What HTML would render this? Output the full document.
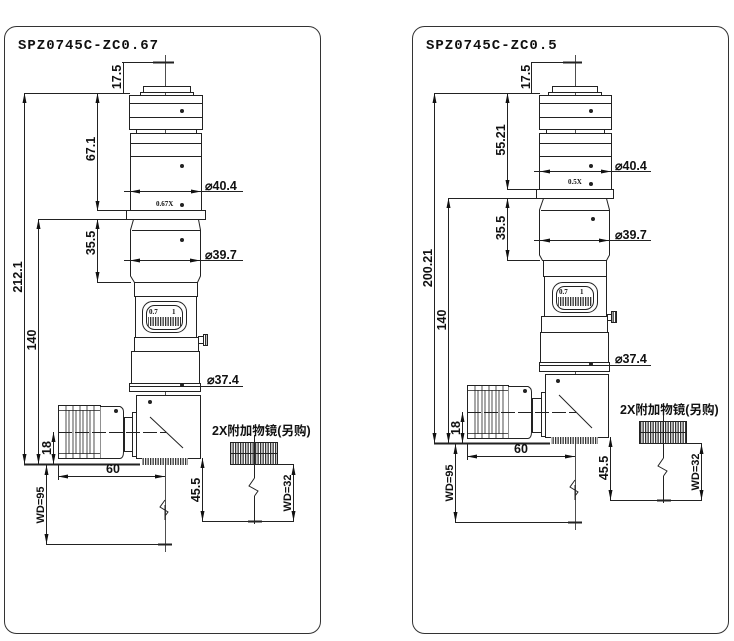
<!DOCTYPE html>
<html><head><meta charset="utf-8"><style>
html,body{margin:0;padding:0;background:#fff;width:734px;height:641px;overflow:hidden}
svg{display:block}
text{font-family:"Liberation Sans","Noto Sans CJK SC",sans-serif;font-weight:bold;fill:#111}
.t{font-family:"Liberation Mono","Noto Sans CJK SC",monospace;font-size:14px;letter-spacing:1px}
.d{font-size:12.5px}
</style></head><body>
<svg width="734" height="641" viewBox="0 0 734 641" xmlns="http://www.w3.org/2000/svg">
<defs>
<marker id="a" viewBox="0 0 10 4" refX="10" refY="2" markerWidth="10" markerHeight="4" markerUnits="userSpaceOnUse" orient="auto-start-reverse"><path d="M0,0L10,2L0,4z" fill="#111"/></marker>
<pattern id="k" width="2.5" height="10" patternUnits="userSpaceOnUse"><rect width="2.5" height="10" fill="#fff"/><rect width="1.3" height="10" fill="#333"/></pattern>
</defs>
<g fill="none" stroke="#333" stroke-width="1">
<rect x="4.5" y="26.5" width="316" height="607" rx="12"/>
<rect x="412.5" y="26.5" width="316" height="607" rx="12"/>
</g>
<text class="t" x="18" y="49">SPZ0745C-ZC0.67</text>
<text class="t" x="426" y="49">SPZ0745C-ZC0.5</text>

<!-- LEFT PANEL -->
<g fill="none" stroke="#222" stroke-width="1">
<line x1="165.5" y1="55" x2="165.5" y2="552" stroke-width="0.8"/>
<line x1="153" y1="62.5" x2="174" y2="62.5" stroke-width="2"/>
<line x1="122" y1="62.5" x2="165" y2="62.5"/>
<rect x="143.5" y="86.5" width="47" height="6" fill="#fff"/>
<rect x="140.5" y="92.5" width="53" height="3"/>
<rect x="129.5" y="95.5" width="73" height="34" fill="#fff"/>
<line x1="129" y1="103.5" x2="202" y2="103.5"/><line x1="129" y1="117.5" x2="202" y2="117.5"/>
<rect x="136.5" y="129.5" width="60" height="4"/>
<rect x="130.5" y="133.5" width="71" height="77" fill="#fff"/>
<line x1="130" y1="143.5" x2="201" y2="143.5"/><line x1="130" y1="156.5" x2="201" y2="156.5"/>
<rect x="126.5" y="210.5" width="79" height="9" fill="#fff"/>
<path d="M133.5,219.5 L198.5,219.5 L200.5,230 L200.5,276 L197.5,282.5 L134.5,282.5 L130.5,276 L130.5,230 Z" fill="#fff"/>
<line x1="132" y1="230.5" x2="200" y2="230.5"/>
<rect x="134.5" y="282.5" width="63" height="14" fill="#fff"/>
<rect x="135.5" y="296.5" width="61" height="41" fill="#fff"/>
<rect x="142.5" y="301.5" width="44" height="31" rx="10"/>
<rect x="146.5" y="305.5" width="36" height="24" rx="8"/>
<rect x="148" y="317" width="33" height="9" fill="url(#k)" stroke="none"/>
<rect x="134.5" y="337.5" width="64" height="14" fill="#fff"/>
<rect x="198.5" y="336.5" width="5" height="7"/>
<rect x="203.5" y="334.5" width="4" height="11" fill="url(#k)"/>
<rect x="131.5" y="351.5" width="68" height="32" fill="#fff"/>
<rect x="129.5" y="383.5" width="71" height="8" fill="#fff"/>
<rect x="136.5" y="395.5" width="64" height="63" fill="#fff"/>
<line x1="150" y1="417" x2="183" y2="448"/>
<rect x="142" y="458" width="46" height="7" fill="url(#k)" stroke="none"/>
<rect x="58.5" y="405.5" width="42" height="53" fill="#fff"/>
<g stroke-width="0.8"><line x1="66" y1="406" x2="66" y2="458"/><line x1="69" y1="410" x2="69" y2="454"/><line x1="73" y1="406" x2="73" y2="458"/><line x1="76" y1="410" x2="76" y2="454"/><line x1="80" y1="406" x2="80" y2="458"/><line x1="83" y1="410" x2="83" y2="454"/><line x1="87" y1="406" x2="87" y2="458"/><line x1="90" y1="410" x2="90" y2="454"/><line x1="94" y1="406" x2="94" y2="458"/><line x1="58" y1="410.5" x2="100" y2="410.5"/><line x1="58" y1="453.5" x2="100" y2="453.5"/></g>
<path d="M100.5,406.5 L120,406.5 Q123.5,408 123.5,412 L123.5,452 Q123.5,458 120,458.5 L100.5,458.5" fill="#fff"/>
<rect x="124.5" y="417.5" width="8" height="34"/><rect x="132.5" y="412.5" width="4" height="44"/>
<line x1="58" y1="432.5" x2="166" y2="432.5" stroke-dasharray="14,3"/>
<line x1="24" y1="464.5" x2="140" y2="464.5" stroke-width="2"/>
<line x1="165" y1="520" x2="165" y2="505"/><polyline points="165,500 160,507 168,512 165,516"/>
<line x1="24.5" y1="93" x2="24.5" y2="464" marker-start="url(#a)" marker-end="url(#a)"/>
<line x1="24" y1="93.5" x2="130" y2="93.5"/>
<line x1="38.5" y1="219" x2="38.5" y2="464" marker-start="url(#a)" marker-end="url(#a)"/>
<line x1="38" y1="219.5" x2="130" y2="219.5"/>
<line x1="97.5" y1="93" x2="97.5" y2="211" marker-start="url(#a)" marker-end="url(#a)"/>
<line x1="97" y1="210.5" x2="127" y2="210.5"/>
<line x1="97.5" y1="219" x2="97.5" y2="282" marker-start="url(#a)" marker-end="url(#a)"/>
<line x1="97" y1="282.5" x2="131" y2="282.5"/>
<line x1="123.5" y1="62" x2="123.5" y2="93"/>
<line x1="124" y1="191.5" x2="243" y2="191.5"/>
<line x1="136" y1="191.5" x2="130" y2="191.5" marker-end="url(#a)"/><line x1="190" y1="191.5" x2="201" y2="191.5" marker-end="url(#a)"/>
<line x1="124" y1="260.5" x2="243" y2="260.5"/>
<line x1="140" y1="260.5" x2="130" y2="260.5" marker-end="url(#a)"/><line x1="190" y1="260.5" x2="200" y2="260.5" marker-end="url(#a)"/>
<line x1="129" y1="386.5" x2="243" y2="386.5"/>
<line x1="53.5" y1="432" x2="53.5" y2="464" marker-start="url(#a)" marker-end="url(#a)"/>
<line x1="58" y1="476.5" x2="165" y2="476.5" marker-start="url(#a)" marker-end="url(#a)"/>
<line x1="58.5" y1="464" x2="58.5" y2="480"/>
<line x1="46.5" y1="465" x2="46.5" y2="544" marker-start="url(#a)" marker-end="url(#a)"/>
<line x1="46" y1="544.5" x2="170" y2="544.5"/>
<line x1="158" y1="544.5" x2="172" y2="544.5" stroke-width="2"/>
<line x1="202.5" y1="458" x2="202.5" y2="521" marker-start="url(#a)" marker-end="url(#a)"/>
<line x1="202" y1="521.5" x2="294" y2="521.5"/>
<rect x="230.5" y="442.5" width="47" height="22" fill="url(#k)"/>
<line x1="230" y1="453.5" x2="278" y2="453.5"/>
<line x1="254.5" y1="435" x2="254.5" y2="478"/><polyline points="254.5,478 249,486 258,491 254.5,496"/><line x1="254.5" y1="496" x2="254.5" y2="524"/>
<line x1="248" y1="521.5" x2="262" y2="521.5" stroke-width="2"/>
<line x1="278" y1="464.5" x2="294" y2="464.5"/>
<line x1="293.5" y1="465" x2="293.5" y2="521" marker-start="url(#a)" marker-end="url(#a)"/>
</g>
<g fill="#222"><circle cx="182" cy="111" r="2"/><circle cx="182" cy="166" r="2"/><circle cx="182" cy="205" r="2"/><circle cx="182" cy="240" r="2"/><circle cx="150" cy="402" r="2"/><circle cx="116" cy="411" r="2"/><circle cx="182" cy="385" r="2"/></g>
<text x="205" y="190" class="d">⌀40.4</text>
<text x="205" y="259" class="d">⌀39.7</text>
<text x="207" y="384" class="d">⌀37.4</text>
<text x="156" y="206" style="font-size:7px;font-family:'Liberation Serif',serif">0.67X</text>
<text x="149" y="314" style="font-size:7px;font-family:'Liberation Serif',serif">0.7</text><text x="172" y="314" style="font-size:7px;font-family:'Liberation Serif',serif">1</text>
<text x="113" y="473" class="d" text-anchor="middle">60</text>
<text x="212" y="435" style="font-size:12.5px">2X附加物镜(另购)</text>
<text class="d" transform="translate(22,277) rotate(-90)" text-anchor="middle">212.1</text>
<text class="d" transform="translate(36,340) rotate(-90)" text-anchor="middle">140</text>
<text class="d" transform="translate(95,149) rotate(-90)" text-anchor="middle">67.1</text>
<text class="d" transform="translate(95,243) rotate(-90)" text-anchor="middle">35.5</text>
<text class="d" transform="translate(121,77) rotate(-90)" text-anchor="middle">17.5</text>
<text class="d" transform="translate(51,448) rotate(-90)" text-anchor="middle">18</text>
<text class="d" transform="translate(44,505) rotate(-90)" text-anchor="middle" style="font-size:11px">WD=95</text>
<text class="d" transform="translate(200,490) rotate(-90)" text-anchor="middle">45.5</text>
<text class="d" transform="translate(291,493) rotate(-90)" text-anchor="middle" style="font-size:11px">WD=32</text>

<!-- RIGHT PANEL -->
<g fill="none" stroke="#222" stroke-width="1">
<line x1="575.5" y1="55" x2="575.5" y2="530" stroke-width="0.8"/>
<line x1="563" y1="62.5" x2="582" y2="62.5" stroke-width="2"/>
<line x1="531" y1="62.5" x2="575" y2="62.5"/>
<rect x="552.5" y="86.5" width="45" height="6" fill="#fff"/>
<rect x="548.5" y="92.5" width="53" height="3"/>
<rect x="539.5" y="95.5" width="72" height="34" fill="#fff"/>
<line x1="539" y1="103.5" x2="611" y2="103.5"/><line x1="539" y1="117.5" x2="611" y2="117.5"/>
<rect x="546.5" y="129.5" width="58" height="4"/>
<rect x="539.5" y="133.5" width="72" height="56" fill="#fff"/>
<line x1="539" y1="143.5" x2="611" y2="143.5"/><line x1="539" y1="156.5" x2="611" y2="156.5"/>
<rect x="536.5" y="189.5" width="77" height="9" fill="#fff"/>
<path d="M543.5,198.5 L606.5,198.5 L609.5,210 L609.5,255 L606.5,260.5 L542.5,260.5 L539.5,255 L539.5,210 Z" fill="#fff"/>
<line x1="541" y1="210.5" x2="609" y2="210.5"/>
<rect x="543.5" y="260.5" width="63" height="16" fill="#fff"/>
<rect x="544.5" y="276.5" width="62" height="40" fill="#fff"/>
<rect x="552.5" y="282.5" width="45" height="30" rx="10"/>
<rect x="556.5" y="286.5" width="37" height="23" rx="8"/>
<rect x="558" y="297" width="34" height="9" fill="url(#k)" stroke="none"/>
<rect x="541.5" y="316.5" width="66" height="16" fill="#fff"/>
<rect x="607.5" y="314.5" width="4" height="6"/>
<rect x="611.5" y="311.5" width="5" height="11" fill="url(#k)"/>
<rect x="540.5" y="332.5" width="68" height="30" fill="#fff"/>
<rect x="539.5" y="362.5" width="70" height="9" fill="#fff"/>
<rect x="545.5" y="374.5" width="63" height="63" fill="#fff"/>
<line x1="559" y1="395" x2="592" y2="428"/>
<rect x="551" y="437" width="47" height="7" fill="url(#k)" stroke="none"/>
<rect x="467.5" y="385.5" width="41" height="53" fill="#fff"/>
<g stroke-width="0.8"><line x1="475" y1="386" x2="475" y2="438"/><line x1="478" y1="390" x2="478" y2="434"/><line x1="482" y1="386" x2="482" y2="438"/><line x1="485" y1="390" x2="485" y2="434"/><line x1="489" y1="386" x2="489" y2="438"/><line x1="492" y1="390" x2="492" y2="434"/><line x1="496" y1="386" x2="496" y2="438"/><line x1="499" y1="390" x2="499" y2="434"/><line x1="503" y1="386" x2="503" y2="438"/><line x1="467" y1="390.5" x2="508" y2="390.5"/><line x1="467" y1="433.5" x2="508" y2="433.5"/></g>
<path d="M508.5,386.5 L528,386.5 Q531.5,388 531.5,392 L531.5,432 Q531.5,438 528,438.5 L508.5,438.5" fill="#fff"/>
<rect x="532.5" y="398.5" width="9" height="34"/><rect x="541.5" y="392.5" width="4" height="44"/>
<line x1="467" y1="412.5" x2="576" y2="412.5" stroke-dasharray="14,3"/>
<line x1="434" y1="443.5" x2="550" y2="443.5" stroke-width="2"/>
<line x1="575" y1="500" x2="575" y2="485"/><polyline points="575,480 570,487 578,492 575,496"/>
<line x1="434.5" y1="93" x2="434.5" y2="443" marker-start="url(#a)" marker-end="url(#a)"/>
<line x1="434" y1="93.5" x2="540" y2="93.5"/>
<line x1="448.5" y1="198" x2="448.5" y2="443" marker-start="url(#a)" marker-end="url(#a)"/>
<line x1="448" y1="198.5" x2="540" y2="198.5"/>
<line x1="507.5" y1="93" x2="507.5" y2="190" marker-start="url(#a)" marker-end="url(#a)"/>
<line x1="507" y1="189.5" x2="537" y2="189.5"/>
<line x1="507.5" y1="198" x2="507.5" y2="260" marker-start="url(#a)" marker-end="url(#a)"/>
<line x1="507" y1="260.5" x2="540" y2="260.5"/>
<line x1="531.5" y1="62" x2="531.5" y2="93"/>
<line x1="534" y1="171.5" x2="651" y2="171.5"/>
<line x1="546" y1="171.5" x2="540" y2="171.5" marker-end="url(#a)"/><line x1="600" y1="171.5" x2="611" y2="171.5" marker-end="url(#a)"/>
<line x1="534" y1="240.5" x2="651" y2="240.5"/>
<line x1="550" y1="240.5" x2="540" y2="240.5" marker-end="url(#a)"/><line x1="598" y1="240.5" x2="609" y2="240.5" marker-end="url(#a)"/>
<line x1="540" y1="365.5" x2="651" y2="365.5"/>
<line x1="462.5" y1="412" x2="462.5" y2="443" marker-start="url(#a)" marker-end="url(#a)"/>
<line x1="467" y1="456.5" x2="575" y2="456.5" marker-start="url(#a)" marker-end="url(#a)"/>
<line x1="467.5" y1="443" x2="467.5" y2="460"/>
<line x1="455.5" y1="444" x2="455.5" y2="522" marker-start="url(#a)" marker-end="url(#a)"/>
<line x1="455" y1="522.5" x2="580" y2="522.5"/>
<line x1="568" y1="522.5" x2="582" y2="522.5" stroke-width="2"/>
<line x1="610.5" y1="437" x2="610.5" y2="500" marker-start="url(#a)" marker-end="url(#a)"/>
<line x1="610" y1="500.5" x2="702" y2="500.5"/>
<rect x="639.5" y="421.5" width="47" height="22" fill="url(#k)"/>
<line x1="639" y1="432.5" x2="687" y2="432.5"/>
<line x1="663.5" y1="414" x2="663.5" y2="458"/><polyline points="663.5,458 658,466 667,471 663.5,476"/><line x1="663.5" y1="476" x2="663.5" y2="503"/>
<line x1="657" y1="500.5" x2="671" y2="500.5" stroke-width="2"/>
<line x1="687" y1="443.5" x2="702" y2="443.5"/>
<line x1="701.5" y1="444" x2="701.5" y2="500" marker-start="url(#a)" marker-end="url(#a)"/>
</g>
<g fill="#222"><circle cx="591" cy="111" r="2"/><circle cx="591" cy="166" r="2"/><circle cx="591" cy="184" r="2"/><circle cx="593" cy="219" r="2"/><circle cx="558" cy="381" r="2"/><circle cx="525" cy="391" r="2"/><circle cx="591" cy="364" r="2"/></g>
<text x="615" y="170" class="d">⌀40.4</text>
<text x="615" y="239" class="d">⌀39.7</text>
<text x="615" y="363" class="d">⌀37.4</text>
<text x="568" y="184" style="font-size:7px;font-family:'Liberation Serif',serif">0.5X</text>
<text x="559" y="294" style="font-size:7px;font-family:'Liberation Serif',serif">0.7</text><text x="580" y="294" style="font-size:7px;font-family:'Liberation Serif',serif">1</text>
<text x="521" y="453" class="d" text-anchor="middle">60</text>
<text x="620" y="414" style="font-size:12.5px">2X附加物镜(另购)</text>
<text class="d" transform="translate(432,268) rotate(-90)" text-anchor="middle">200.21</text>
<text class="d" transform="translate(446,320) rotate(-90)" text-anchor="middle">140</text>
<text class="d" transform="translate(505,140) rotate(-90)" text-anchor="middle">55.21</text>
<text class="d" transform="translate(505,228) rotate(-90)" text-anchor="middle">35.5</text>
<text class="d" transform="translate(530,77) rotate(-90)" text-anchor="middle">17.5</text>
<text class="d" transform="translate(460,428) rotate(-90)" text-anchor="middle">18</text>
<text class="d" transform="translate(453,483) rotate(-90)" text-anchor="middle" style="font-size:11px">WD=95</text>
<text class="d" transform="translate(608,468) rotate(-90)" text-anchor="middle">45.5</text>
<text class="d" transform="translate(699,472) rotate(-90)" text-anchor="middle" style="font-size:11px">WD=32</text>
</svg>
</body></html>
